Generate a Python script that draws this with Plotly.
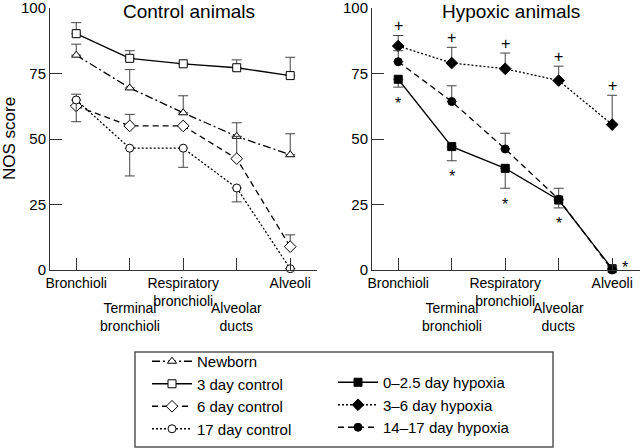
import plotly.graph_objects as go

# ---------------- data ----------------
categories = ["Bronchioli", "Terminal bronchioli", "Respiratory bronchioli",
              "Alveolar ducts", "Alveoli"]
cat_pos = [0, 1, 2, 3, 4]
top_tick_labels = ["Bronchioli", "", "Respiratory<br>bronchioli", "", "Alveoli"]
low_tick_labels = ["", "Terminal<br>bronchioli", "", "Alveolar<br>ducts", ""]
y_ticks = [0, 25, 50, 75, 100]

# Control animals
newborn = [82, 69.5, 60, 51, 44]
newborn_up = [4.2, 7, 6.5, 5.2, 8]
control3 = [90.2, 80.8, 78.7, 77.2, 74.2]
control3_up = [4.2, 2.9, 0, 3, 7]
control6 = [62.6, 55, 55, 42.5, 8.9]
control6_up = [4.5, 4.4, 0, 8.5, 4.5]
control17 = [64.9, 46.5, 46.5, 31.3, 0.5]
control17_down = [8.3, 10.6, 7.3, 5.3, 0]

# Hypoxic animals
hyp0 = [72.8, 47.1, 38.8, 26.7, 0.5]
hyp0_down = [3, 5.4, 7.6, 3, 0]
hyp3 = [85.5, 79, 76.8, 72.3, 55.5]
hyp3_up = [4, 6, 6, 5.5, 11.2]
hyp14 = [79.5, 64.3, 46.2, 27, 0]
hyp14_up = [4.2, 6, 6, 4.2, 1.5]

plus_marks = ["+", "+", "+", "+", "+"]   # above 3–6 day hypoxia
star_marks = ["*", "*", "*", "*", "*"]   # below 0–2.5 day hypoxia

FONT = "Liberation Sans, Arial, Helvetica, sans-serif"
ERRC = "#444444"

fig = go.Figure()


def add_series(x_axis, y_axis, name, y, up, down, symbol, filled, dash, legend):
    fig.add_trace(go.Scatter(
        x=cat_pos, y=y, name=name, mode="lines+markers",
        xaxis=x_axis, yaxis=y_axis, legend=legend,
        line=dict(color="black", width=1.3, dash=dash),
        marker=dict(symbol=symbol, size=8 if symbol != "diamond" else 9,
                    color="black" if filled else "white",
                    line=dict(color="black", width=1)),
        error_y=dict(type="data", symmetric=False, array=up, arrayminus=down,
                     color=ERRC, thickness=1, width=5),
        cliponaxis=False,
    ))


zeros = [0, 0, 0, 0, 0]
add_series("x", "y", "Newborn", newborn, newborn_up, zeros, "triangle-up", False, "8px,3px,2px,3px", "legend")
add_series("x", "y", "3 day control", control3, control3_up, zeros, "square", False, "solid", "legend")
add_series("x", "y", "6 day control", control6, control6_up, zeros, "diamond", False, "6px,4px", "legend")
add_series("x", "y", "17 day control", control17, zeros, control17_down, "circle", False, "2px,2px", "legend")

add_series("x2", "y2", "0–2.5 day hypoxia", hyp0, zeros, hyp0_down, "square", True, "solid", "legend2")
add_series("x2", "y2", "3–6 day hypoxia", hyp3, hyp3_up, zeros, "diamond", True, "2px,2px", "legend2")
add_series("x2", "y2", "14–17 day hypoxia", hyp14, hyp14_up, zeros, "circle", True, "6px,4px", "legend2")

axis_common = dict(showline=True, linecolor="#333333", linewidth=1,
                   ticks="inside", ticklen=12, tickcolor="#333333",
                   showgrid=False, zeroline=False, ticklabeloverflow="allow")


def px_x(px):
    return (px - 50) / 590


def px_y(py):
    return (270 - py) / 262


fig.update_layout(
    width=640, height=448,
    margin=dict(l=50, r=0, t=8, b=178, autoexpand=False),
    paper_bgcolor="white", plot_bgcolor="white",
    font=dict(family=FONT, color="black"),
    xaxis=dict(domain=[0, 0.4525], range=[-0.49, 4.5], tickvals=cat_pos,
               ticktext=top_tick_labels, tickfont=dict(size=14), anchor="y",
               **axis_common),
    yaxis=dict(domain=[0, 1], range=[0, 100], tickvals=y_ticks,
               tickfont=dict(size=15), anchor="x", **axis_common),
    xaxis2=dict(domain=[0.5458, 1], range=[-0.49, 4.52], tickvals=cat_pos,
                ticktext=top_tick_labels, tickfont=dict(size=14), anchor="y2",
                **axis_common),
    yaxis2=dict(domain=[0, 1], range=[0, 100], tickvals=y_ticks,
                tickfont=dict(size=15), anchor="x2", **axis_common),
    legend=dict(x=px_x(147), y=px_y(345),
                xanchor="left", yanchor="top", bgcolor="rgba(0,0,0,0)",
                font=dict(size=15, family=FONT, color="black"), itemwidth=40,
                tracegroupgap=0),
    legend2=dict(x=px_x(333), y=px_y(366),
                 xanchor="left", yanchor="top", bgcolor="rgba(0,0,0,0)",
                 font=dict(size=15, family=FONT, color="black"), itemwidth=40,
                 tracegroupgap=0),
    showlegend=True,
)

annotations = []
# lower staggered tick labels
for xa, ya in (("x", "y"), ("x2", "y2")):
    for p, lab in zip(cat_pos, low_tick_labels):
        if lab:
            annotations.append(dict(x=p, xref=xa, y=0, yref=ya + " domain",
                                    yanchor="top", yshift=-28, text=lab,
                                    showarrow=False,
                                    font=dict(size=14, color="black")))
# significance marks
for p, v, e, m in zip(cat_pos, hyp3, hyp3_up, plus_marks):
    annotations.append(dict(x=p, xref="x2", y=v + e, yref="y2", text=m,
                            showarrow=False, yanchor="middle", yshift=10,
                            font=dict(size=16, color="black")))
for i, (p, v, e, m) in enumerate(zip(cat_pos, hyp0, hyp0_down, star_marks)):
    last = i == len(cat_pos) - 1
    annotations.append(dict(x=p, xref="x2", y=v - e, yref="y2", text=m,
                            showarrow=False, yanchor="middle",
                            xshift=13 if last else 0, yshift=1 if last else -16,
                            font=dict(size=16, color="black")))
# panel titles
annotations.append(dict(x=0.52, xref="x domain", y=1, yref="y domain", yanchor="middle",
                        yshift=-3, text="Control animals", showarrow=False,
                        font=dict(size=19, color="black")))
annotations.append(dict(x=0.52, xref="x2 domain", y=1, yref="y2 domain", yanchor="middle",
                        yshift=-3, text="Hypoxic animals", showarrow=False,
                        font=dict(size=19, color="black")))
# y axis title
annotations.append(dict(x=px_x(9), xref="paper", y=0.5, yref="paper",
                        xanchor="center", yanchor="middle", textangle=-90,
                        text="NOS score", showarrow=False,
                        font=dict(size=17, color="black")))
fig.update_layout(annotations=annotations)

# legend frame
fig.add_shape(type="rect", xref="paper", yref="paper",
              x0=px_x(135), x1=px_x(553),
              y0=px_y(447), y1=px_y(352),
              line=dict(color="#555555", width=1.5), fillcolor="rgba(0,0,0,0)")

fig.write_html("out.html", config={"displayModeBar": False},
               post_script="document.body.style.margin='0';")
